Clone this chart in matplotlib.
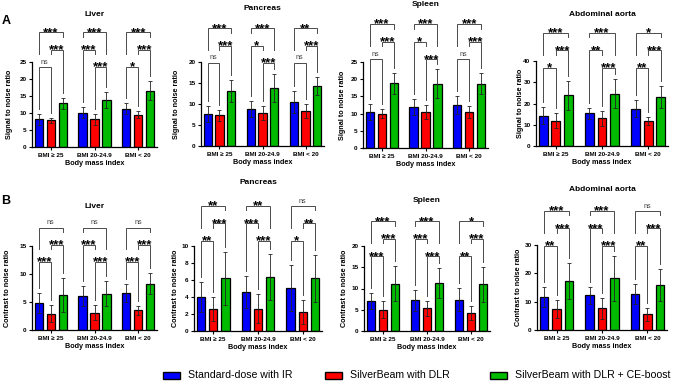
import numpy as np
import matplotlib
matplotlib.use("Agg")
import matplotlib.pyplot as plt
from matplotlib.patches import Rectangle
from matplotlib.transforms import blended_transform_factory

plt.rcParams['font.family'] = ['Liberation Sans', 'DejaVu Sans']

W, H = 685, 392

groups = ['BMI \u2265 25', 'BMI 20-24.9', 'BMI < 20']
methods = ['Standard-dose with IR', 'SilverBeam with DLR', 'SilverBeam with DLR + CE-boost']
colors = ['#0000FF', '#FF0000', '#00BB00']
organs = ['Liver', 'Pancreas', 'Spleen', 'Abdominal aorta']

# (A) signal to noise ratio: mean / sd per group, per method
snr_liver_mean = [[8.2, 7.8, 12.8], [10.1, 8.2, 13.8], [11.2, 9.5, 16.6]]
snr_liver_sd = [[1.6, 0.8, 1.7], [1.7, 1.6, 2.4], [1.6, 1.0, 2.7]]
snr_pancreas_mean = [[7.7, 7.3, 13.1], [8.8, 7.9, 13.8], [10.4, 8.3, 14.3]]
snr_pancreas_sd = [[1.9, 1.3, 2.7], [1.8, 1.7, 3.4], [2.6, 1.6, 2.2]]
snr_spleen_mean = [[10.5, 10.0, 18.8], [11.8, 10.5, 18.7], [12.5, 10.5, 18.7]]
snr_spleen_sd = [[2.3, 1.3, 3.0], [2.3, 2.0, 4.3], [2.5, 1.8, 3.0]]
snr_aorta_mean = [[14.2, 12.0, 23.8], [15.3, 13.0, 24.7], [17.5, 11.8, 23.0]]
snr_aorta_sd = [[4.0, 3.5, 6.7], [2.4, 3.5, 6.7], [4.0, 1.8, 5.3]]

# (B) contrast to noise ratio
cnr_liver_mean = [[4.8, 2.9, 6.3], [6.1, 3.1, 6.5], [6.6, 3.5, 8.3]]
cnr_liver_sd = [[1.8, 1.5, 3.0], [1.8, 1.4, 2.3], [1.6, 0.8, 1.9]]
cnr_pancreas_mean = [[4.0, 2.6, 6.2], [4.6, 2.6, 6.4], [5.1, 2.2, 6.2]]
cnr_pancreas_sd = [[1.8, 1.4, 3.1], [1.9, 1.7, 2.7], [2.7, 1.4, 2.8]]
cnr_spleen_mean = [[7.0, 5.0, 11.1], [7.2, 5.3, 11.3], [7.4, 4.3, 11.0]]
cnr_spleen_sd = [[1.9, 2.0, 4.1], [2.4, 1.8, 3.6], [2.7, 1.6, 4.1]]
cnr_aorta_mean = [[11.7, 7.4, 17.3], [12.3, 7.7, 18.3], [12.7, 5.6, 15.9]]
cnr_aorta_sd = [[3.6, 3.2, 6.3], [3.0, 3.7, 7.9], [3.5, 2.3, 5.6]]

# significance per group: [IR vs DLR, DLR vs CE-boost, IR vs CE-boost]
snr_liver_sig = [['ns', '***', '***'], ['***', '***', '***'], ['*', '***', '***']]
snr_pancreas_sig = [['ns', '***', '***'], ['*', '***', '***'], ['ns', '***', '**']]
snr_spleen_sig = [['ns', '***', '***'], ['*', '***', '***'], ['ns', '***', '***']]
snr_aorta_sig = [['*', '***', '***'], ['**', '***', '***'], ['**', '***', '*']]
cnr_liver_sig = [['***', '***', 'ns'], ['***', '***', 'ns'], ['***', '***', 'ns']]
cnr_pancreas_sig = [['**', '***', '**'], ['***', '***', '**'], ['*', '**', 'ns']]
cnr_spleen_sig = [['***', '***', '***'], ['***', '***', '***'], ['**', '***', '*']]
cnr_aorta_sig = [['**', '***', '***'], ['***', '***', '***'], ['**', '***', 'ns']]

snr_ymax = [25, 20, 25, 40]
snr_ystep = [5, 5, 5, 10]
cnr_ymax = [15, 10, 20, 30]
cnr_ystep = [5, 2, 5, 10]

panels = [
    (0, 0, snr_liver_mean, snr_liver_sd, snr_liver_sig),
    (0, 1, snr_pancreas_mean, snr_pancreas_sd, snr_pancreas_sig),
    (0, 2, snr_spleen_mean, snr_spleen_sd, snr_spleen_sig),
    (0, 3, snr_aorta_mean, snr_aorta_sd, snr_aorta_sig),
    (1, 0, cnr_liver_mean, cnr_liver_sd, cnr_liver_sig),
    (1, 1, cnr_pancreas_mean, cnr_pancreas_sd, cnr_pancreas_sig),
    (1, 2, cnr_spleen_mean, cnr_spleen_sd, cnr_spleen_sig),
    (1, 3, cnr_aorta_mean, cnr_aorta_sd, cnr_aorta_sig),
]

# layout in pixels: axes (left, top, right, bottom), title y, ylabel x, lowest bracket (axes frac)
layout = {
    (0, 0): ((32, 62, 157, 147), 15, 10, 0.94),
    (0, 1): ((201, 62, 324, 146), 8, 177, 0.99),
    (0, 2): ((363, 62, 488, 148), 4, 343, 1.03),
    (0, 3): ((536, 61, 668, 146), 15, 520, 0.92),
    (1, 0): ((32, 246, 157, 330), 207, 8, 0.81),
    (1, 1): ((194, 246, 322, 331), 183, 175, 1.06),
    (1, 2): ((364, 246, 490, 331), 200, 344, 0.88),
    (1, 3): ((537, 245, 667, 330), 190, 518, 0.99),
}

fig = plt.figure(figsize=(W / 100, H / 100), dpi=100)

offsets = [-0.273, 0.0, 0.273]
bar_w = 0.19
xg = np.arange(len(groups))

for row, col, mean, sd, sig in panels:
    (l, t, r, b), ty, ylx, low = layout[(row, col)]
    ymax = snr_ymax[col] if row == 0 else cnr_ymax[col]
    step = snr_ystep[col] if row == 0 else cnr_ystep[col]
    ax = fig.add_axes([l / W, 1 - b / H, (r - l) / W, (b - t) / H])
    mean = np.array(mean)
    sd = np.array(sd)
    for k in range(3):
        xs = xg + offsets[k]
        ax.bar(xs, mean[:, k], width=bar_w, color=colors[k], edgecolor='black',
               linewidth=0.9, zorder=2)
        ax.errorbar(xs, mean[:, k], yerr=sd[:, k], fmt='none', ecolor='#222222',
                    elinewidth=0.6, capsize=1.6, capthick=0.6, zorder=3)
    ax.set_xlim(-0.43, 2.43)
    ax.set_ylim(0, ymax)
    ax.set_yticks(np.arange(0, ymax + 0.01, step))
    ax.set_xticks(xg)
    ax.set_xticklabels(groups, fontsize=4.6, fontweight='bold')
    for lab in ax.get_yticklabels():
        lab.set_fontsize(4.6)
        lab.set_fontweight('bold')
    ax.tick_params(axis='both', length=2.5, width=0.8, pad=1.5)
    for s in ['top', 'right']:
        ax.spines[s].set_visible(False)
    for s in ['left', 'bottom']:
        ax.spines[s].set_linewidth(0.9)
    ax.set_xlabel('Body mass index', fontsize=5.2, fontweight='bold', labelpad=2)

    # y label and title in figure coords
    fig.text(ylx / W, 1 - (t + b) / 2 / H,
             'Signal to noise ratio' if row == 0 else 'Contrast to noise ratio',
             rotation=90, ha='center', va='center', fontsize=5.2, fontweight='bold')
    fig.text((l + r) / 2 / W, 1 - ty / H, organs[col], ha='center', va='center',
             fontsize=6, fontweight='bold')

    # significance brackets
    px = 1.0 / (b - t)  # one pixel in axes fraction
    tr = blended_transform_factory(ax.transData, ax.transAxes)
    levels = [low, low + 0.205, low + 0.41]
    for g in range(3):
        if g == 1:
            lv = {(0, 1): levels[1], (1, 2): levels[0]}
        else:
            lv = {(0, 1): levels[0], (1, 2): levels[1]}
        lv[(0, 2)] = levels[2]
        labs = {(0, 1): sig[g][0], (1, 2): sig[g][1], (0, 2): sig[g][2]}
        for (i, j), y in lv.items():
            legs = []
            for k in (i, j):
                end = (mean[g, k] + sd[g, k]) / ymax + 5 * px
                for (a, c), y2 in lv.items():
                    if y2 < y and a <= k <= c and (a, c) != (i, j):
                        end = max(end, y2 + 13 * px)
                end = min(end, y - 3 * px)
                legs.append(end)
            x1 = g + offsets[i]
            x2 = g + offsets[j]
            ax.plot([x1, x1, x2, x2], [legs[0], y, y, legs[1]], color='#4a4a4a',
                    lw=0.7, transform=tr, clip_on=False, zorder=4,
                    solid_joinstyle='miter')
            s = labs[(i, j)]
            if s == 'ns':
                ax.text((x1 + x2) / 2, y + 3.5 * px, s, ha='center', va='baseline',
                        fontsize=5.2, color='#444444', transform=tr)
            else:
                ax.text((x1 + x2) / 2, y - 3.5 * px, s, ha='center', va='baseline',
                        fontsize=9.5, fontweight='bold', transform=tr)

fig.text(6 / W, 1 - 21 / H, 'A', ha='center', va='center', fontsize=9, fontweight='bold')
fig.text(6 / W, 1 - 201 / H, 'B', ha='center', va='center', fontsize=9, fontweight='bold')

# legend drawn along the bottom
leg_x = [163, 325, 490]
for k in range(3):
    fig.add_artist(Rectangle((leg_x[k] / W, 1 - 379 / H), 17 / W, 7 / H,
                             facecolor=colors[k], edgecolor='black', linewidth=1.0,
                             transform=fig.transFigure))
    fig.text((leg_x[k] + 25) / W, 1 - 375.5 / H, methods[k], ha='left', va='center',
             fontsize=7.6)

fig.savefig('out.png', dpi=100)
